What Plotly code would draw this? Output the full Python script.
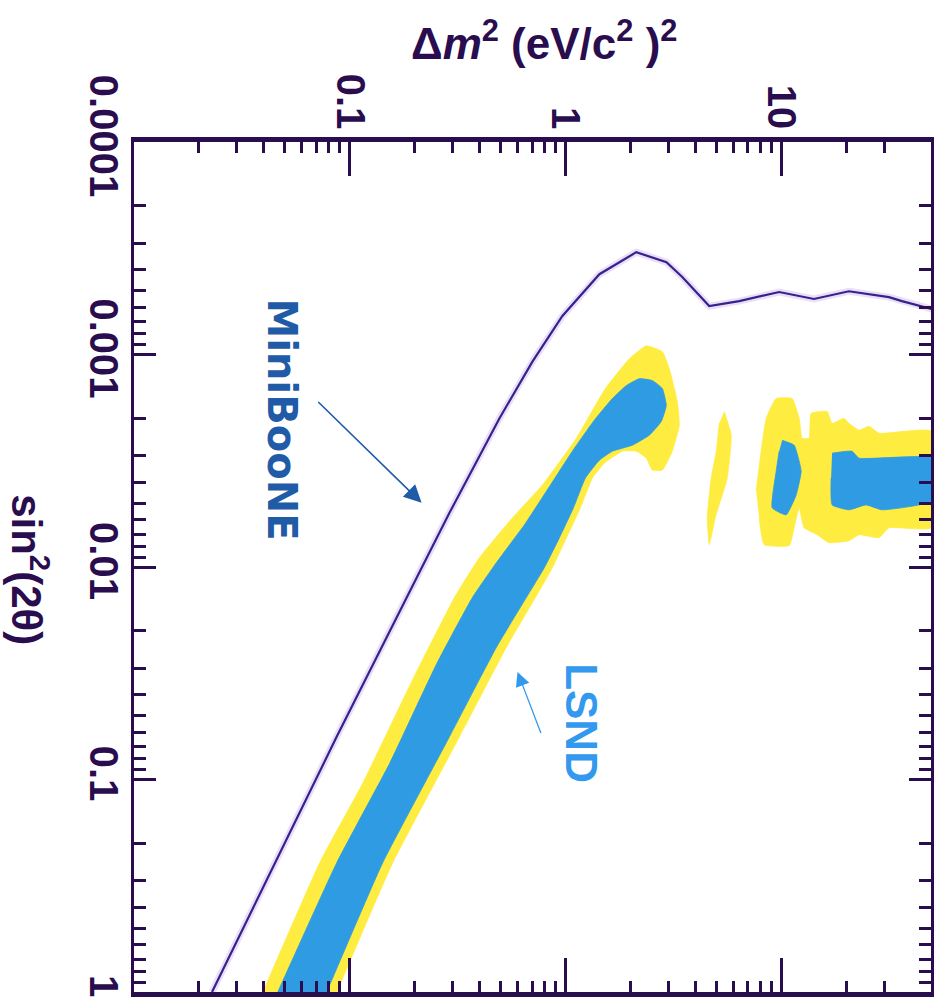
import math
import plotly.graph_objects as go

# ---- MiniBooNE sensitivity limit (Δm² in eV², sin²2θ) ----
mb_dm2 = [0.0230, 0.0459, 0.0871, 0.1837, 0.290, 0.494, 0.703, 0.968, 1.437, 2.13,
          2.94, 3.48, 4.64, 6.39, 9.79, 14.2, 20.6, 31.6, 36.3, 50.0]
mb_sin = [1.0, 0.236, 0.0628, 0.0139, 0.00556, 0.00200, 0.00108, 0.000659, 0.000419, 0.000330,
          0.000368, 0.000432, 0.000592, 0.000561, 0.000508, 0.000548, 0.000504, 0.000537, 0.000561, 0.000611]

# ---- LSND allowed regions: outer (yellow) contour ----
lsnd_out_dm2 = [0.0396, 0.0726, 0.1149, 0.1957, 0.3063, 0.3998, 0.5683, 0.7824, 1.124, 1.532,
                1.979, 2.371, 2.813, 3.030, 3.300, 3.371, 3.129, 2.813, 2.528, 2.371,
                2.132, 1.836, 1.516, 1.334, 1.173, 1.011, 0.8706, 0.7265, 0.5331, 0.3231,
                0.1582, 0.0871]
lsnd_out_sin = [1.0, 0.2464, 0.1041, 0.03396, 0.01389, 0.009028, 0.005866, 0.004111, 0.002478, 0.001446,
                0.001047, 0.000910, 0.000971, 0.001166, 0.001664, 0.002154, 0.002851, 0.003499, 0.003499, 0.003074,
                0.002851, 0.002851, 0.003244, 0.003814, 0.005268, 0.007278, 0.01005, 0.01389, 0.02380, 0.06277,
                0.2464, 1.0]

# outer contour, narrow island near 5 eV²
lsnd_isl1_dm2 = [5.446, 5.868, 5.623, 4.948, 4.642, 4.544, 4.742, 5.002, 5.164]
lsnd_isl1_sin = [0.001853, 0.002399, 0.003814, 0.005866, 0.007847, 0.005866, 0.003814, 0.002851, 0.002109]

# outer contour, high Δm² region
lsnd_isl2_dm2 = [7.660, 8.524, 9.482, 11.24, 12.12, 12.51, 13.48, 13.77, 16.33, 17.22,
                 19.57, 20.64, 22.97, 25.55, 28.43, 50.0, 50.0, 31.62, 28.43, 22.97,
                 20.64, 16.68, 14.68, 12.78, 12.12, 11.49, 10.89, 8.343, 7.909]
lsnd_isl2_sin = [0.004386, 0.001998, 0.001611, 0.001611, 0.001998, 0.002478, 0.002478, 0.001893, 0.001853, 0.002109,
                 0.001998, 0.002109, 0.002273, 0.002178, 0.002348, 0.002298, 0.006534, 0.006534, 0.007278, 0.007047,
                 0.007516, 0.007681, 0.007047, 0.006534, 0.005268, 0.006534, 0.007932, 0.007847, 0.005866]

# ---- LSND inner (blue) contour ----
lsnd_in_dm2 = [0.0464, 0.0871, 0.1532, 0.2528, 0.3711, 0.4793, 0.6457, 0.8524, 1.077, 1.348,
               1.651, 1.916, 2.201, 2.528, 2.813, 2.935, 2.783, 2.448, 2.043, 1.651,
               1.437, 1.238, 1.089, 0.938, 0.7995, 0.6597, 0.4793, 0.2904, 0.1422, 0.0782]
lsnd_in_sin = [1.0, 0.2464, 0.08395, 0.02858, 0.01389, 0.009526, 0.006327, 0.004111, 0.002851, 0.002064,
               0.001611, 0.001400, 0.001299, 0.001327, 0.001446, 0.001737, 0.002064, 0.002399, 0.002672, 0.002851,
               0.003142, 0.003814, 0.005268, 0.007278, 0.01005, 0.01389, 0.02380, 0.06277, 0.2464, 1.0]

lsnd_in_isl1_dm2 = [10.11, 11.49, 12.38, 11.74, 10.55, 9.085, 9.482, 9.788]
lsnd_in_isl1_sin = [0.002532, 0.002672, 0.003536, 0.004580, 0.005681, 0.005268, 0.003536, 0.002851]

lsnd_in_isl2_dm2 = [17.22, 21.31, 22.97, 50.0, 50.0, 29.35, 24.75, 20.64, 17.22, 17.04]
lsnd_in_isl2_sin = [0.002913, 0.002851, 0.003074, 0.003074, 0.004885, 0.005383, 0.005101, 0.005383, 0.005101, 0.003814]

# ---- axes ----
x_ticks = [0.1, 1, 10]
x_ticktext = ["0.1", "1", "10"]
x_minor = [0.02, 0.03, 0.04, 0.05, 0.06, 0.07, 0.08, 0.09,
           0.2, 0.3, 0.4, 0.5, 0.6, 0.7, 0.8, 0.9,
           2, 3, 4, 5, 6, 7, 8, 9, 20, 30]
y_ticks = [0.0001, 0.001, 0.01, 0.1, 1]
y_ticktext = ["0.0001", "0.001", "0.01", "0.1", "1"]
y_minor = [m * d for d in (0.0001, 0.001, 0.01, 0.1) for m in range(2, 10)]

INK = "#2a0d4e"
YELLOW = "#ffec40"
BLUE = "#2f9be2"
LINE = "#35228f"

fig = go.Figure()

def region(xs, ys, color):
    fig.add_trace(go.Scatter(x=xs, y=ys, mode="lines", fill="toself",
                             fillcolor=color, line=dict(width=0.8, color=color, shape="spline", smoothing=0.4),
                             hoverinfo="skip", showlegend=False))

region(lsnd_out_dm2, lsnd_out_sin, YELLOW)
region(lsnd_isl1_dm2, lsnd_isl1_sin, YELLOW)
region(lsnd_isl2_dm2, lsnd_isl2_sin, YELLOW)
region(lsnd_in_dm2, lsnd_in_sin, BLUE)
region(lsnd_in_isl1_dm2, lsnd_in_isl1_sin, BLUE)
region(lsnd_in_isl2_dm2, lsnd_in_isl2_sin, BLUE)

# soft halo under the sensitivity curve, then the curve itself
fig.add_trace(go.Scatter(x=mb_dm2, y=mb_sin, mode="lines",
                         line=dict(color="rgba(190,150,230,0.30)", width=7),
                         hoverinfo="skip", showlegend=False))
fig.add_trace(go.Scatter(x=mb_dm2, y=mb_sin, mode="lines",
                         line=dict(color=LINE, width=2.2),
                         hoverinfo="skip", showlegend=False))

tick_font = dict(family="Liberation Sans, Arial, sans-serif", size=40, color=INK, weight="bold")

fig.update_xaxes(type="log", range=[-2, math.log10(49.5)], side="top",
                 showline=True, linewidth=4.5, linecolor=INK, mirror="ticks",
                 ticks="inside", ticklen=34, tickwidth=3, tickcolor=INK,
                 tickvals=x_ticks, ticktext=x_ticktext, tickangle=90,
                 tickfont=tick_font, ticklabelstandoff=-6,
                 minor=dict(tickvals=x_minor, ticks="inside", ticklen=11, tickwidth=2.5, tickcolor=INK),
                 showgrid=False, zeroline=False)
fig.update_yaxes(type="log", range=[0, -4],
                 showline=True, linewidth=3, linecolor=INK, mirror="ticks",
                 ticks="inside", ticklen=22, tickwidth=3, tickcolor=INK,
                 tickvals=y_ticks, ticktext=y_ticktext, tickangle=90,
                 tickfont=tick_font, ticklabelstandoff=-7,
                 minor=dict(tickvals=y_minor, ticks="inside", ticklen=12, tickwidth=2.5, tickcolor=INK),
                 showgrid=False, zeroline=False)

def L(v):
    return math.log10(v)

annotations = [
    dict(text="Δ<i>m</i><sup>2</sup> (eV/c<sup>2</sup> )<sup>2</sup>", xref="paper", yref="paper",
         x=0.515, y=1.119, xanchor="center", yanchor="middle", showarrow=False,
         font=dict(family="Liberation Sans, Arial, sans-serif", size=44, color=INK, weight="bold")),
    dict(text="sin<sup>2</sup>(2θ)", xref="paper", yref="paper",
         x=-0.130, y=0.497, xanchor="center", yanchor="middle", showarrow=False, textangle=90,
         font=dict(family="Liberation Sans, Arial, sans-serif", size=42, color=INK, weight="bold")),
    dict(text="MiniBooNE", xref="x", yref="y", x=L(0.04844), y=L(0.00202), showarrow=False,
         textangle=90, font=dict(family="DejaVu Sans, sans-serif", size=40, color="#1f5ba6", weight="bold")),
    dict(text="LSND", xref="x", yref="y", x=L(1.186), y=L(0.05455), showarrow=False,
         textangle=90, font=dict(family="Liberation Sans, Arial, sans-serif", size=44, color="#3399ee", weight="bold")),
    dict(text="", xref="x", yref="y", x=L(0.2154), y=L(0.00499), axref="x", ayref="y",
         ax=L(0.07036), ay=L(0.001646), showarrow=True, arrowhead=2, arrowsize=2.2,
         arrowwidth=1.6, arrowcolor="#1f5ba6"),
    dict(text="", xref="x", yref="y", x=L(0.5995), y=L(0.03116), axref="x", ayref="y",
         ax=L(0.774), ay=L(0.0614), showarrow=True, arrowhead=2, arrowsize=2.2,
         arrowwidth=1.3, arrowcolor="#3399ee"),
]

fig.update_layout(width=942, height=1005, margin=dict(l=134, r=10, t=142, b=8),
                  paper_bgcolor="white", plot_bgcolor="white",
                  annotations=annotations, showlegend=False)

fig.write_html("out.html")
